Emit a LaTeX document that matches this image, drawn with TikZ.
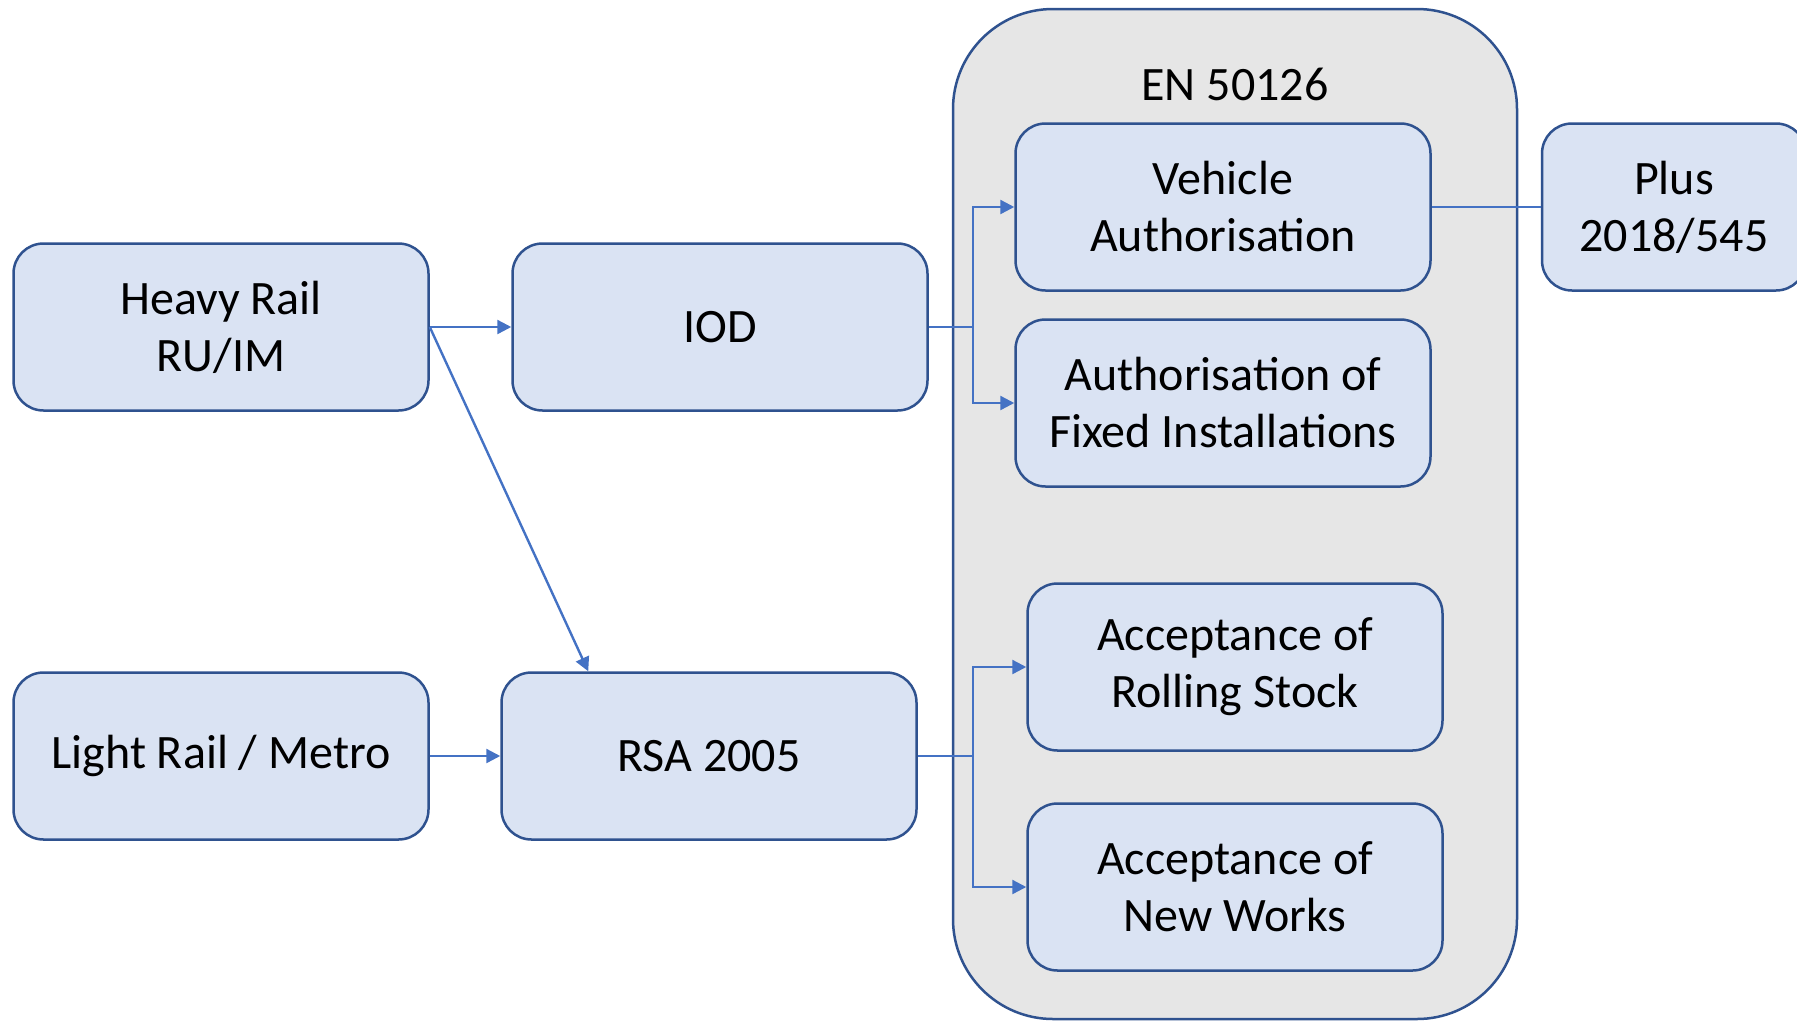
\documentclass[tikz,border=0pt]{standalone}
\usepackage{fontspec}
\setmainfont{Carlito}
\usetikzlibrary{arrows.meta,calc}
\definecolor{boxfill}{HTML}{DAE3F3}
\definecolor{boxline}{HTML}{2F528F}
\definecolor{linkblue}{HTML}{4472C4}
\definecolor{engrey}{HTML}{E6E6E6}
\begin{document}
\begin{tikzpicture}[x=1pt,y=-1pt,
  box/.style={draw=boxline, line width=2.5pt, fill=boxfill, rounded corners=30pt,
    minimum width=415pt, minimum height=167pt, align=center, inner sep=0pt,
    font=\fontsize{48}{57}\selectfont},
  link/.style={draw=linkblue, line width=2.4pt},
  arr/.style={link, -{Triangle[length=14pt,width=14pt]}}]
\useasboundingbox (0,0) rectangle (1797,1021);
\node[box, fill=engrey, minimum width=564pt, minimum height=1010pt, rounded corners=100pt] (en) at (1235,514) {};
\node[font=\fontsize{48}{57}\selectfont, inner sep=0pt] (entitle) at (1235,84) {EN 50126};
\node[box] (hr) at (221,327) {Heavy Rail\\RU/IM};
\node[box] (iod) at (720,327) {IOD};
\node[box] (lr) at (221,756) {Light Rail / Metro};
\node[box] (rsa) at (709,756) {RSA 2005};
\node[box] (va) at (1223,207) {Vehicle\\Authorisation};
\node[box] (af) at (1223,403) {Authorisation of\\Fixed Installations};
\node[box] (ars) at (1235,667) {Acceptance of\\Rolling Stock};
\node[box] (anw) at (1235,887) {Acceptance of\\New Works};
\node[box, minimum width=264pt] (plus) at (1674,207) {Plus\\2018/545};
% connectors
\draw[arr] (hr.east) -- (iod.west);
\draw[arr] (hr.east) -- ([xshift=88pt]rsa.north west);
\draw[arr] (lr.east) -- (rsa.west);
\draw[link] (iod.east) -- ++(44,0) coordinate (j1);
\draw[arr] (j1) |- (va.west);
\draw[arr] (j1) |- (af.west);
\draw[link] (rsa.east) -- ++(55,0) coordinate (j2);
\draw[arr] (j2) |- (ars.west);
\draw[arr] (j2) |- (anw.west);
\draw[draw=linkblue, line width=1.2pt] (va.east) -- (plus.west);
\end{tikzpicture}
\end{document}
